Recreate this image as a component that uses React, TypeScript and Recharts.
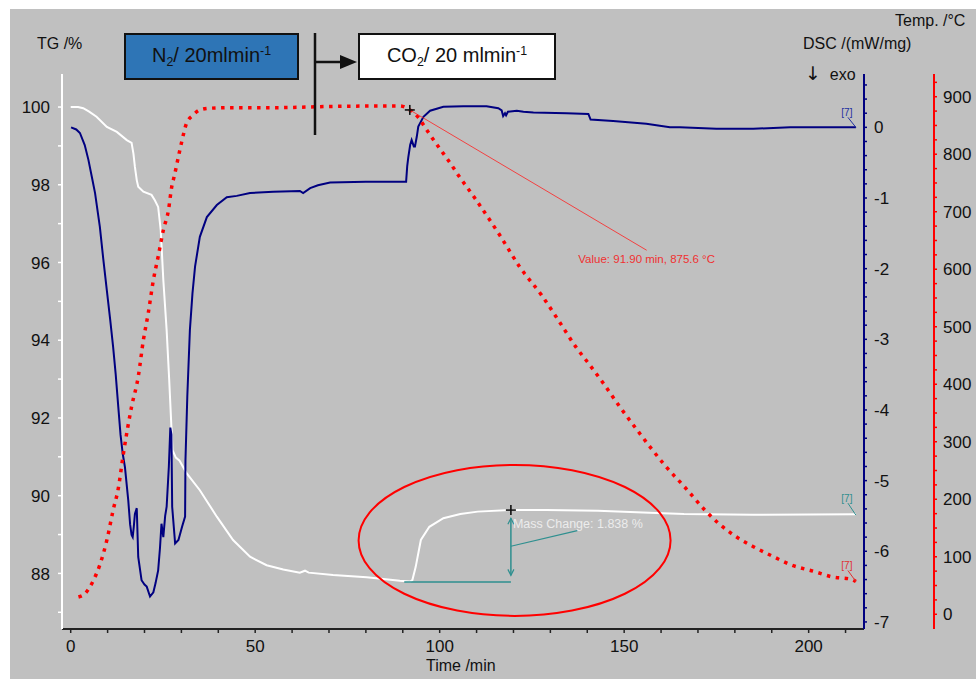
import React from "react";
import { ComposedChart, Line, XAxis, YAxis, ReferenceLine, ReferenceDot } from "recharts";

const FONT = '"Liberation Sans", Arial, Helvetica, sans-serif';

// [time /min, TG /%]
const tgPoints: [number, number][] = [
  [0, 100.0], [2, 100.0], [3.4, 99.97], [5, 99.88], [7, 99.75], [9.8, 99.49], [12.5, 99.36],
  [15.2, 99.15], [16.5, 99.08], [17.0, 98.8], [17.4, 98.46], [17.9, 98.12], [18.3, 97.95],
  [19.7, 97.82], [21.9, 97.74], [22.8, 97.6], [23.7, 97.43], [24.4, 96.83], [25.1, 95.55],
  [26.0, 94.26], [26.7, 92.97], [27.2, 91.95], [27.6, 91.17], [28.5, 90.98], [29.5, 90.9],
  [31.4, 90.58], [35, 90.14], [39.6, 89.46], [44, 88.86], [48.6, 88.43], [53.1, 88.21],
  [57.6, 88.1], [62.1, 88.02], [63.5, 88.07], [64.5, 88.02], [71.1, 87.96], [80.2, 87.9],
  [89.2, 87.81], [92.0, 87.79], [92.6, 87.83], [93.5, 88.17], [94.9, 88.86], [97.2, 89.2],
  [101, 89.42], [105.6, 89.53], [110.3, 89.59], [119.3, 89.63], [128.9, 89.63], [142.9, 89.61],
  [156.9, 89.56], [166.2, 89.53], [184.9, 89.51], [212.8, 89.52],
];

// [time /min, DSC /(mW/mg)]
const dscPoints: [number, number][] = [
  [0.1, 0.0], [1.5, -0.03], [2.5, -0.08], [3.8, -0.25], [4.8, -0.46], [5.8, -0.72], [6.6, -0.93],
  [7.9, -1.41], [8.8, -1.85], [9.8, -2.31], [10.7, -2.72], [11.5, -3.11], [12.2, -3.5],
  [12.9, -3.96], [13.5, -4.35], [14.1, -4.62], [14.7, -4.81], [15.6, -5.28], [16.1, -5.62],
  [16.5, -5.77], [16.8, -5.8], [17.1, -5.65], [17.4, -5.47], [17.9, -5.39], [18.3, -6.08],
  [19.2, -6.41], [20.0, -6.47], [20.6, -6.5], [21.5, -6.64], [22.4, -6.58], [23.0, -6.45],
  [23.7, -6.27], [24.2, -5.95], [24.6, -5.61], [25.1, -5.8], [25.6, -5.5], [26.0, -5.37],
  [26.6, -4.8], [27.0, -4.25], [27.3, -4.35], [27.5, -5.37], [28.3, -5.89], [29.2, -5.84],
  [30.2, -5.65], [31.0, -5.51], [31.1, -4.71], [31.6, -3.81], [32.3, -2.87], [33.0, -2.35],
  [33.7, -1.97], [35.0, -1.55], [36.9, -1.27], [39.6, -1.1], [42.3, -0.99], [45.0, -0.97],
  [48.6, -0.93], [54.9, -0.91], [62.1, -0.9], [63.0, -0.93], [64.9, -0.86], [67.0, -0.82],
  [70.3, -0.78], [80, -0.77], [90.9, -0.77], [91.2, -0.55], [91.5, -0.42], [92.0, -0.25],
  [92.4, -0.18], [93.0, -0.27], [93.3, -0.27], [93.8, -0.13], [94.2, 0.01], [95.6, 0.15],
  [97.4, 0.235], [101, 0.29], [106.4, 0.3], [112.7, 0.3], [115.9, 0.27], [116.8, 0.24],
  [117.2, 0.16], [117.7, 0.2], [118.0, 0.17], [118.5, 0.22], [120.9, 0.235], [122.7, 0.22],
  [125.4, 0.21], [134.4, 0.2], [140.3, 0.19], [140.9, 0.11], [147, 0.09], [156, 0.05],
  [162.4, 0.0], [165.1, 0.0], [175, -0.02], [185, -0.02], [195, 0.0], [212.8, 0.0],
];

// [time /min, Temp /°C]
const tempPoints: [number, number][] = [
  [2.1, 30], [3.9, 36], [6.0, 57], [7.9, 86], [9.8, 129], [11.5, 181], [12.9, 219], [14.3, 280],
  [16.5, 361], [18.3, 413], [19.7, 477], [21.0, 523], [22.4, 581], [23.7, 622], [25.1, 668],
  [26.5, 703], [27.4, 744], [28.0, 760], [29.2, 796], [30.1, 822], [31.4, 854], [33.2, 868],
  [35.0, 877], [37.8, 880], [44, 881], [55.8, 881], [70, 883], [89.2, 884], [91.9, 877],
  [94.2, 864], [96.5, 842], [100.1, 809], [102.6, 787], [105, 764], [109.6, 723], [116.3, 659],
  [121.8, 603], [127.6, 555], [132.1, 512], [136.9, 465], [140.5, 435], [144.2, 403],
  [148.9, 360], [153.8, 318], [157.5, 287], [161.3, 257], [166.3, 222], [171.9, 181],
  [175.6, 158], [180.3, 135], [184.9, 118], [190.5, 100], [195.2, 86], [201.7, 74],
  [206.4, 65], [211.5, 61], [212.8, 57],
];

const timeTicks = [0, 10, 20, 30, 40, 50, 60, 70, 80, 90, 100, 110, 120, 130, 140, 150, 160, 170, 180, 190, 200, 210];
const tgTicks = [87, 88, 89, 90, 91, 92, 93, 94, 95, 96, 97, 98, 99, 100];
const dscMajor = [-7, -6, -5, -4, -3, -2, -1, 0];
const tempMajor = [0, 100, 200, 300, 400, 500, 600, 700, 800, 900];

const dscTicks = dscMajor
  .flatMap((v) => [0, 0.2, 0.4, 0.6, 0.8].map((s) => +(v + s).toFixed(1)))
  .filter((v) => v <= 0.7);
const tempTicks = tempMajor.flatMap((v) => [v, v + 25, v + 50, v + 75]).filter((v) => v <= 930);

const toRows = (pts: [number, number][]) => pts.map(([t, v]) => ({ t, v }));
const tgData = toRows(tgPoints);
const dscData = toRows(dscPoints);
const tempData = toRows(tempPoints);

const TEAL = "#2e8f8f";

const TimeTick = ({ x, y, payload }: any) =>
  payload.value % 50 === 0 ? (
    <text x={x} y={y + 19} textAnchor="middle" fontSize={17} fill="#111" fontFamily={FONT}>
      {payload.value}
    </text>
  ) : (
    <g />
  );

const TgTick = ({ x, y, payload }: any) =>
  payload.value % 2 === 0 ? (
    <text x={x} y={y} dy="0.36em" textAnchor="end" fontSize={17} fill="#111" fontFamily={FONT}>
      {payload.value}
    </text>
  ) : (
    <g />
  );

const DscTick = ({ x, y, payload }: any) =>
  Math.abs(payload.value - Math.round(payload.value)) < 1e-6 ? (
    <text x={x} y={y} dy="0.36em" textAnchor="start" fontSize={17} fill="#111" fontFamily={FONT}>
      {Math.round(payload.value)}
    </text>
  ) : (
    <g />
  );

const TempTick = ({ x, y, payload }: any) =>
  payload.value % 100 === 0 ? (
    <text x={x} y={y} dy="0.36em" textAnchor="start" fontSize={17} fill="#111" fontFamily={FONT}>
      {payload.value}
    </text>
  ) : (
    <g />
  );

const Plus = (p: any) => (
  <g stroke="#111" strokeWidth={1.6}>
    <line x1={p.cx - 5} y1={p.cy} x2={p.cx + 5} y2={p.cy} />
    <line x1={p.cx} y1={p.cy - 5} x2={p.cx} y2={p.cy + 5} />
  </g>
);

const tag = (color: string, dy: number) => (p: any) => (
  <g>
    <line x1={p.cx - 8} y1={p.cy + dy + 5} x2={p.cx} y2={p.cy} stroke={color} strokeWidth={1} />
    <text x={p.cx - 9} y={p.cy + dy} dy="0.35em" textAnchor="middle" fontSize={10} fill={color} fontFamily={FONT}>
      [7]
    </text>
  </g>
);

const boxStyle: React.CSSProperties = {
  position: "absolute",
  top: 33,
  height: 47,
  boxSizing: "border-box",
  border: "2px solid #111",
  display: "flex",
  alignItems: "center",
  justifyContent: "center",
  fontSize: 20,
  fontFamily: FONT,
  color: "#111",
};
const subStyle: React.CSSProperties = { fontSize: "0.62em", verticalAlign: "-0.3em" };
const supStyle: React.CSSProperties = { fontSize: "0.62em", verticalAlign: "0.6em" };

const title = (left: number, cy: number): React.CSSProperties => ({
  position: "absolute",
  left,
  top: cy - 9,
  fontSize: 16,
  lineHeight: "18px",
  fontFamily: FONT,
  color: "#111",
  whiteSpace: "nowrap",
});

export default function App() {
  return (
    <div style={{ position: "absolute", left: 0, top: 0, width: 976, height: 679, background: "#fff", overflow: "hidden" }}>
      <div style={{ position: "absolute", left: 10, top: 9, right: 0, bottom: 0, background: "#c0c0c0" }} />
      <div style={{ position: "absolute", left: 0, top: 0 }}>
        <ComposedChart width={976} height={679} margin={{ top: 74, right: 0, bottom: 0, left: 0 }}>
          <XAxis
            dataKey="t"
            type="number"
            domain={[-2.36, 215]}
            allowDataOverflow
            ticks={timeTicks}
            interval={0}
            height={50}
            axisLine={{ stroke: "#222", strokeWidth: 2 }}
            tickLine={{ stroke: "#222", strokeWidth: 1.5 }}
            tickSize={4}
            tickMargin={0}
            tick={<TimeTick />}
          />
          <YAxis
            yAxisId="tg"
            orientation="left"
            type="number"
            domain={[86.57, 100.85]}
            allowDataOverflow
            ticks={tgTicks}
            interval={0}
            width={62}
            axisLine={{ stroke: "#fff", strokeWidth: 2 }}
            tickLine={{ stroke: "#fff", strokeWidth: 1.5 }}
            tickSize={4}
            tickMargin={8}
            tick={<TgTick />}
          />
          <YAxis
            yAxisId="dsc"
            orientation="right"
            type="number"
            domain={[-7.1, 0.755]}
            allowDataOverflow
            ticks={dscTicks}
            interval={0}
            width={70}
            axisLine={{ stroke: "#000080", strokeWidth: 2 }}
            tickLine={{ stroke: "#000080", strokeWidth: 1.5 }}
            tickSize={3}
            tickMargin={7}
            tick={<DscTick />}
          />
          <YAxis
            yAxisId="temp"
            orientation="right"
            type="number"
            domain={[-25.6, 939.5]}
            allowDataOverflow
            ticks={tempTicks}
            interval={0}
            width={42}
            axisLine={{ stroke: "#ff0000", strokeWidth: 2 }}
            tickLine={{ stroke: "#ff0000", strokeWidth: 1.5 }}
            tickSize={3}
            tickMargin={6}
            tick={<TempTick />}
          />

          <Line data={tgData} dataKey="v" yAxisId="tg" type="linear" stroke="#ffffff" strokeWidth={2} dot={false} isAnimationActive={false} />
          <Line data={dscData} dataKey="v" yAxisId="dsc" type="linear" stroke="#000080" strokeWidth={2} dot={false} isAnimationActive={false} />
          <Line
            data={tempData}
            dataKey="v"
            yAxisId="temp"
            type="monotone"
            stroke="#ff0000"
            strokeWidth={3.5}
            strokeDasharray="3.5 5.5"
            dot={false}
            isAnimationActive={false}
          />

          {/* temperature readout */}
          <ReferenceLine yAxisId="temp" segment={[{ x: 91.9, y: 877 }, { x: 156.1, y: 633 }]} stroke="#ff2020" strokeOpacity={0.8} strokeWidth={1} />
          <ReferenceDot yAxisId="temp" x={91.9} y={877} r={0} shape={Plus} />
          <ReferenceDot
            yAxisId="temp"
            x={156.1}
            y={633}
            r={0}
            shape={(p: any) => (
              <text x={p.cx} y={p.cy + 13} textAnchor="middle" fontSize={11.5} fill="#f03030" fontFamily={FONT}>
                Value: 91.90 min, 875.6 °C
              </text>
            )}
          />

          {/* mass change */}
          <ReferenceLine yAxisId="tg" segment={[{ x: 90.4, y: 87.78 }, { x: 119.3, y: 87.78 }]} stroke={TEAL} strokeWidth={1.5} />
          <ReferenceLine yAxisId="tg" segment={[{ x: 119.3, y: 87.95 }, { x: 119.3, y: 89.42 }]} stroke={TEAL} strokeWidth={1.5} />
          <ReferenceLine yAxisId="tg" segment={[{ x: 119.3, y: 88.7 }, { x: 137.3, y: 89.1 }]} stroke={TEAL} strokeWidth={1.2} />
          <ReferenceDot
            yAxisId="tg"
            x={119.3}
            y={89.42}
            r={0}
            shape={(p: any) => <path d={`M${p.cx - 3},${p.cy + 6} L${p.cx},${p.cy} L${p.cx + 3},${p.cy + 6}`} fill="none" stroke={TEAL} strokeWidth={1.2} />}
          />
          <ReferenceDot
            yAxisId="tg"
            x={119.3}
            y={87.95}
            r={0}
            shape={(p: any) => <path d={`M${p.cx - 3},${p.cy - 6} L${p.cx},${p.cy} L${p.cx + 3},${p.cy - 6}`} fill="none" stroke={TEAL} strokeWidth={1.2} />}
          />
          <ReferenceDot yAxisId="tg" x={119.3} y={89.63} r={0} shape={Plus} />
          <ReferenceDot
            yAxisId="tg"
            x={119.3}
            y={89.29}
            r={0}
            shape={(p: any) => (
              <text x={p.cx + 2} y={p.cy} dy="0.35em" textAnchor="start" fontSize={12.5} fill="#ececec" fontFamily={FONT}>
                Mass Change: 1.838 %
              </text>
            )}
          />

          {/* curve end tags */}
          <ReferenceDot yAxisId="dsc" x={212.8} y={0} r={0} shape={tag("#2030a0", -15)} />
          <ReferenceDot yAxisId="tg" x={212.8} y={89.5} r={0} shape={tag(TEAL, -17)} />
          <ReferenceDot yAxisId="temp" x={212.8} y={57} r={0} shape={tag("#e03030", -16)} />

          {/* highlighted region */}
          <ReferenceDot
            yAxisId="tg"
            x={120.3}
            y={88.85}
            r={0}
            shape={(p: any) => <ellipse cx={p.cx} cy={p.cy} rx={156} ry={75.5} fill="none" stroke="#ff0000" strokeWidth={2} />}
          />
        </ComposedChart>
      </div>

      <svg width={976} height={679} style={{ position: "absolute", left: 0, top: 0, pointerEvents: "none" }}>
        <line x1={315} y1={33} x2={315} y2={135} stroke="#111" strokeWidth={2.5} />
        <line x1={315} y1={62} x2={342} y2={62} stroke="#111" strokeWidth={2.5} />
        <polygon points="340,55 357,62 340,69" fill="#111" />
      </svg>

      <div style={{ ...boxStyle, left: 124, width: 175, background: "#2e75b6" }}>
        <span>
          N<sub style={subStyle}>2</sub>/ 20mlmin<sup style={supStyle}>-1</sup>
        </span>
      </div>
      <div style={{ ...boxStyle, left: 358, width: 198, background: "#ffffff" }}>
        <span>
          CO<sub style={subStyle}>2</sub>/ 20 mlmin<sup style={supStyle}>-1</sup>
        </span>
      </div>

      <div style={title(37, 44)}>TG /%</div>
      <div style={title(895, 21)}>Temp. /°C</div>
      <div style={title(803, 44)}>DSC /(mW/mg)</div>
      <div style={title(805, 73)}>
        <span style={{ fontFamily: '"DejaVu Sans", sans-serif', fontSize: 19 }}>↓</span>&nbsp; exo
      </div>
      <div style={title(426, 666)}>Time /min</div>
    </div>
  );
}
